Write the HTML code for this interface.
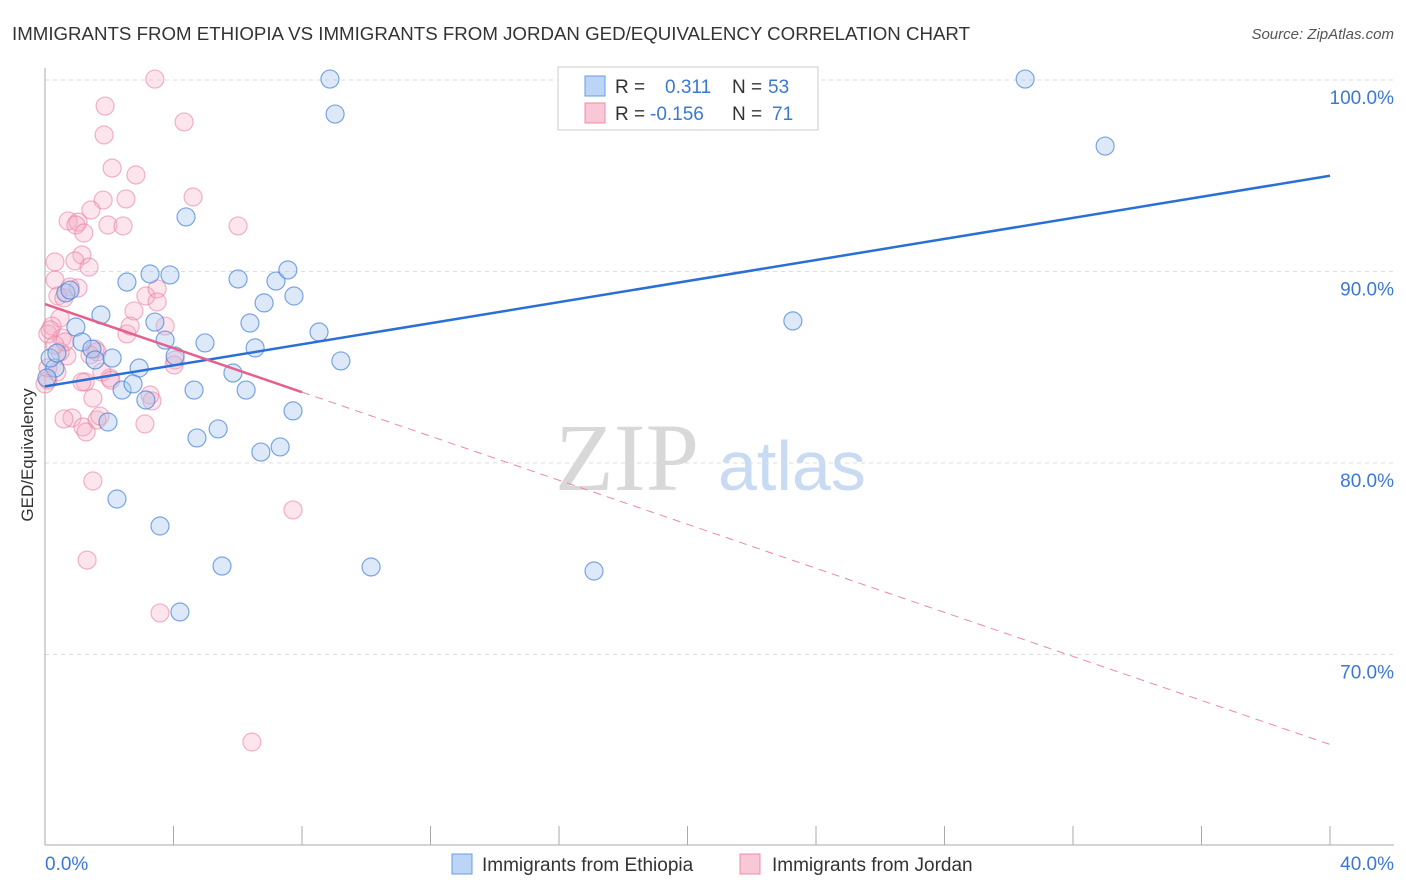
<!DOCTYPE html>
<html><head><meta charset="utf-8"><style>
body{margin:0;background:#fff;font-family:"Liberation Sans",sans-serif;}
svg{display:block}
</style></head><body>
<svg id="chart" width="1406" height="892">
<text x="12" y="40" font-size="18.7" fill="#333">IMMIGRANTS FROM ETHIOPIA VS IMMIGRANTS FROM JORDAN GED/EQUIVALENCY CORRELATION CHART</text>
<text x="1394" y="39" font-size="15" fill="#555" font-style="italic" text-anchor="end">Source: ZipAtlas.com</text>
<g>
<text x="555" y="490" font-size="96" font-family="Liberation Serif,serif" fill="#d8d8d8">ZIP</text>
<text x="718" y="490" font-size="70" fill="#c8dbf3">atlas</text>
</g>
<g id="grid"></g>
<g id="axes"></g>
<g id="pts"></g>
<g id="lines"></g>
<g>
<rect x="558" y="67" width="260" height="63" fill="#fff" stroke="#ccc"/>
<rect x="585" y="76" width="20" height="20" fill="#bcd4f5" stroke="#6a9ee3"/>
<rect x="585" y="103" width="20" height="20" fill="#f9c8d6" stroke="#ec8ca8"/>
<text x="615" y="93" font-size="19" fill="#333">R =</text>
<text x="665" y="93" font-size="19" fill="#3a78d4">0.311</text>
<text x="732" y="93" font-size="19" fill="#333">N =</text>
<text x="768" y="93" font-size="19" fill="#3a78d4">53</text>
<text x="615" y="120" font-size="19" fill="#333">R =</text>
<text x="650" y="120" font-size="19" fill="#3a78d4">-0.156</text>
<text x="732" y="120" font-size="19" fill="#333">N =</text>
<text x="772" y="120" font-size="19" fill="#3a78d4">71</text>
</g>
<g>
<rect x="452" y="854" width="20" height="20" fill="#bcd4f5" stroke="#6a9ee3"/>
<text x="482" y="871" font-size="19" fill="#333">Immigrants from Ethiopia</text>
<rect x="740" y="854" width="20" height="20" fill="#f9c8d6" stroke="#ec8ca8"/>
<text x="772" y="871" font-size="19" fill="#333">Immigrants from Jordan</text>
</g>
<text transform="translate(33,455) rotate(-90)" font-size="17" fill="#333" text-anchor="middle">GED/Equivalency</text>
</svg>
<script>
const yTicks=[100,90,80,70];
const yTickLabels=["100.0%","90.0%","80.0%","70.0%"];
const xTickLabels=["0.0%","40.0%"];
const bluePx=[[330,79],[1025,79],[335,114],[1105,146],[186,217],[127,282],[150,274],[170,275],[238,279],[276,281],[288,270],[294,296],[264,303],[250,323],[155,322],[165,340],[205,343],[255,348],[319,332],[101,315],[76,327],[66,293],[82,342],[92,349],[95,360],[112,358],[139,368],[122,390],[133,384],[175,356],[194,390],[233,373],[246,390],[146,400],[293,411],[341,361],[793,321],[108,422],[218,429],[197,438],[261,452],[280,447],[117,499],[160,526],[222,566],[371,567],[594,571],[180,612],[55,368],[50,358],[57,353],[70,290],[47,378]];
const pinkPx=[[155,79],[184,122],[105,106],[104,135],[112,168],[136,175],[126,199],[103,200],[193,197],[91,210],[68,221],[78,222],[76,225],[84,233],[108,225],[123,226],[238,226],[82,255],[75,261],[89,267],[55,262],[55,280],[70,287],[78,288],[58,296],[64,298],[146,296],[157,289],[157,302],[134,311],[165,326],[60,318],[52,326],[48,334],[62,338],[95,349],[97,352],[127,334],[175,360],[174,365],[67,356],[57,372],[48,380],[110,378],[102,372],[85,382],[111,380],[150,395],[152,401],[93,398],[145,424],[72,418],[64,419],[83,427],[86,432],[97,420],[100,416],[93,481],[293,510],[87,560],[160,613],[252,742],[130,326],[50,330],[60,352],[55,345],[65,342],[82,382],[90,355],[45,384],[48,368]];
const ethX=bluePx.map(p=>+((p[0]-45)/32.125).toFixed(2));
const ethY=bluePx.map(p=>+(100-(p[1]-80)/19.15).toFixed(2));
const jorX=pinkPx.map(p=>+((p[0]-45)/32.125).toFixed(2));
const jorY=pinkPx.map(p=>+(100-(p[1]-80)/19.15).toFixed(2));
const blueTrend=[[0,84.0],[40,95.0]];
const pinkTrend=[[0,88.3],[8,83.7],[40,65.3]];

const X=v=>45+v*32.125, Y=v=>80+(100-v)*19.15;
const NS="http://www.w3.org/2000/svg";
function mk(tag,attrs,parent){const e=document.createElementNS(NS,tag);for(const k in attrs)e.setAttribute(k,attrs[k]);document.getElementById(parent).appendChild(e);return e;}
yTicks.forEach((t,i)=>{
  const g=mk('line',{x1:45,x2:1394,y1:Y(t),y2:Y(t),stroke:'#ddd','stroke-dasharray':'4,4'},'grid');
  
  
  const l=mk('text',{x:1394,y:Y(t)+24,'font-size':19,fill:'#3a78d4','text-anchor':'end'},'grid');
  l.textContent=yTickLabels[i];
  
  
});
const ax=mk('line',{x1:45,x2:45,y1:68,y2:845,stroke:'#aaa'},'axes');


const bx=mk('line',{x1:45,x2:1394,y1:845,y2:845,stroke:'#aaa'},'axes');


for(let i=0;i<=10;i++){const t=mk('line',{x1:X(i*4),x2:X(i*4),y1:826,y2:845,stroke:'#aaa'},'axes');

}
[[0,'start',45],[40,'end',1394]].forEach((d,i)=>{const t=mk('text',{x:d[2],y:870,'font-size':19,fill:'#3a78d4','text-anchor':d[1]},'axes');t.textContent=xTickLabels[i];

});
jorX.forEach((x,i)=>{const c=mk('circle',{cx:X(x),cy:Y(jorY[i]),r:9,fill:'rgba(246,170,195,0.3)',stroke:'rgba(232,120,155,0.55)','stroke-width':1.2},'pts');

});
ethX.forEach((x,i)=>{const c=mk('circle',{cx:X(x),cy:Y(ethY[i]),r:9,fill:'rgba(170,200,240,0.4)',stroke:'rgba(70,130,215,0.7)','stroke-width':1.2},'pts');

});
const bl=mk('line',{x1:X(blueTrend[0][0]),y1:Y(blueTrend[0][1]),x2:X(blueTrend[1][0]),y2:Y(blueTrend[1][1]),stroke:'#2a6fd6','stroke-width':2.5},'lines');


const pl=mk('line',{x1:X(pinkTrend[0][0]),y1:Y(pinkTrend[0][1]),x2:X(pinkTrend[1][0]),y2:Y(pinkTrend[1][1]),stroke:'#e5608a','stroke-width':2.5},'lines');


const pd=mk('line',{x1:X(pinkTrend[1][0]),y1:Y(pinkTrend[1][1]),x2:X(pinkTrend[2][0]),y2:Y(pinkTrend[2][1]),stroke:'#eb88a6','stroke-width':1,'stroke-dasharray':'8,6'},'lines');


</script>
</body></html>
